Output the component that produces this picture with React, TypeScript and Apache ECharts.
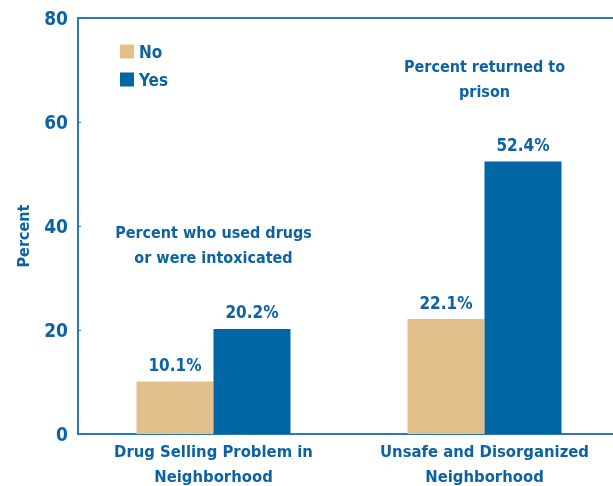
import React, { useEffect, useRef } from "react";
import * as echarts from "echarts";

const categories = ["Drug Selling Problem in\nNeighborhood", "Unsafe and Disorganized\nNeighborhood"];
const noValues = [10.1, 22.1];
const yesValues = [20.2, 52.4];
const seriesNames = ["No", "Yes"];
const yTicks = [0, 20, 40, 60, 80];
const yAxisTitle = "Percent";
const annotations = ["Percent who used drugs\nor were intoxicated", "Percent returned to\nprison"];
const annotationValues = [36.4, 68.2];

const FONT = "'DejaVu Sans Condensed', 'DejaVu Sans', sans-serif";
const TEXT = "#0d62a3";
const BLUE = "#0066a4";
const TAN = "#e3bf8c";
const AXIS = "#2a7ab8";

export default function App() {
  const ref = useRef<HTMLDivElement>(null);
  useEffect(() => {
    const chart = echarts.init(ref.current!, undefined, { renderer: "svg" });
    const labelStyle = {
      show: true,
      position: "top",
      distance: 8,
      color: TEXT,
      fontFamily: FONT,
      fontWeight: "bold",
      fontSize: 17,
      formatter: (p: any) => p.value.toFixed(1) + "%",
    };
    chart.setOption({
      animation: false,
      grid: {
        left: 78,
        top: 18,
        width: 542,
        height: 416,
        outerBoundsMode: "none",
        containLabel: false,
        show: true,
        borderColor: AXIS,
        borderWidth: 2,
      },
      legend: {
        left: 115,
        top: 38,
        orient: "vertical",
        itemWidth: 14,
        itemHeight: 14,
        itemGap: 11,
        data: seriesNames,
        textStyle: { color: TEXT, fontFamily: FONT, fontWeight: "bold", fontSize: 17 },
        icon: "rect",
      },
      graphic: [
        {
          type: "text",
          x: 23,
          y: 236,
          rotation: Math.PI / 2,
          style: {
            text: yAxisTitle,
            fill: TEXT,
            font: `bold 16px ${FONT}`,
            textAlign: "center",
            textVerticalAlign: "middle",
          },
        },
      ],
      xAxis: {
        type: "category",
        data: categories,
        axisLine: { lineStyle: { color: AXIS, width: 2 } },
        axisTick: { show: false },
        axisLabel: {
          color: TEXT,
          fontFamily: FONT,
          fontWeight: "bold",
          fontSize: 16.5,
          lineHeight: 25,
          margin: 5,
          interval: 0,
        },
      },
      yAxis: {
        type: "value",
        min: 0,
        max: 80,
        interval: 20,
        axisLine: { show: true, lineStyle: { color: AXIS, width: 2 } },
        axisTick: { show: true, inside: true, length: 3, lineStyle: { color: AXIS, width: 1 } },
        splitLine: { show: false },
        axisLabel: {
          color: TEXT,
          fontFamily: FONT,
          fontWeight: "bold",
          fontSize: 19,
          margin: 10,
          formatter: (v: number) => (yTicks.includes(v) ? String(v) : ""),
        },
      },
      series: [
        {
          name: seriesNames[0],
          type: "bar",
          data: noValues,
          barWidth: 77,
          barGap: "0%",
          itemStyle: { color: TAN },
          label: labelStyle,
        },
        {
          name: seriesNames[1],
          type: "bar",
          data: yesValues,
          barWidth: 77,
          barGap: "0%",
          itemStyle: { color: BLUE },
          label: labelStyle,
        },
        {
          type: "scatter",
          data: annotationValues.map((v, i) => [i, v]),
          symbolSize: 0,
          silent: true,
          itemStyle: { opacity: 1 },
          label: {
            show: true,
            position: "inside",
            color: TEXT,
            fontFamily: FONT,
            fontWeight: "bold",
            fontSize: 16,
            lineHeight: 25,
            formatter: (p: any) => annotations[p.dataIndex],
          },
        },
      ],
    });
    return () => chart.dispose();
  }, []);
  return <div ref={ref} style={{ position: "fixed", left: 0, top: 0, width: 613, height: 486 }} />;
}
